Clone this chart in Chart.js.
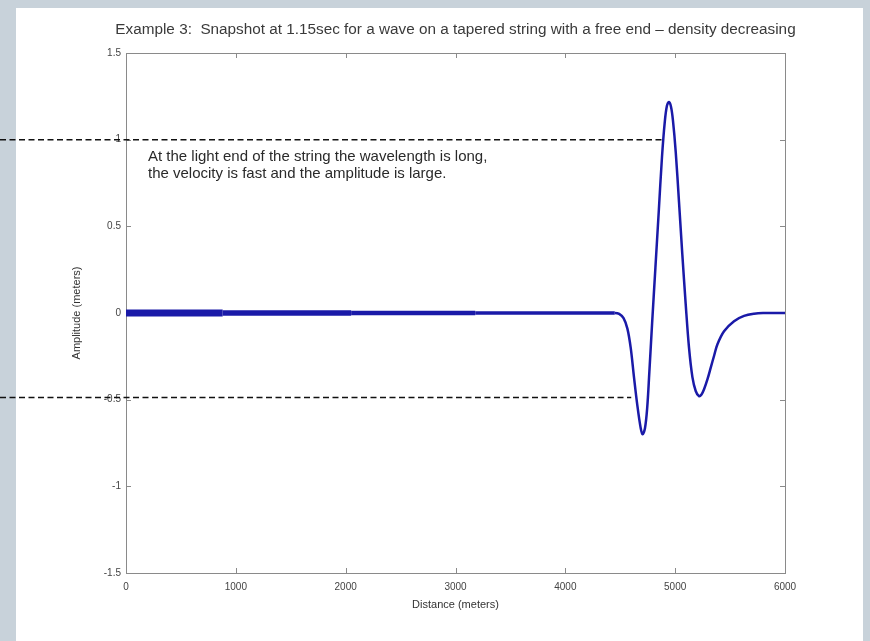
<!DOCTYPE html>
<html>
<head>
<meta charset="utf-8">
<title>Wave on a tapered string</title>
<script src="https://cdn.jsdelivr.net/npm/chart.js@4.4.1/dist/chart.umd.min.js"></script>
<style>
  html, body { margin: 0; padding: 0; background: #c8d2da; }
  #wrap { width: 870px; height: 641px; }
</style>
</head>
<body>
<div id="wrap"><canvas id="myChart" width="870" height="641"></canvas></div>
<script>
// snapshot values: distance (m) and amplitude (m)
let distance = [0, 880, 2050, 3180, 4450, 4490, 4530, 4565, 4595, 4625, 4655, 4685, 4703, 4725,
    4745, 4765, 4790, 4820, 4850, 4880, 4905, 4925, 4943, 4962, 4980, 5005, 5035, 5065, 5096,
    5126, 5157, 5187, 5217, 5240, 5263, 5295, 5324, 5355, 5385, 5445, 5536, 5627, 5718, 5800, 6000];
let amplitude = [0, 0, 0, 0, 0, -0.005, -0.03, -0.09, -0.2, -0.37, -0.53, -0.66, -0.70, -0.665,
    -0.55, -0.34, -0.06, 0.26, 0.58, 0.90, 1.10, 1.195, 1.217, 1.19, 1.11, 0.93, 0.64, 0.34, 0.05,
    -0.2, -0.37, -0.45, -0.48, -0.47, -0.44, -0.38, -0.315, -0.245, -0.18, -0.105, -0.047, -0.017, -0.004, 0, 0];

let xTickLabels = ['0', '1000', '2000', '3000', '4000', '5000', '6000'];
let yTickLabels = ['-1.5', '-1', '-0.5', '0', '0.5', '1', '1.5'];

// dashed marker lines: level (m) and where they stop along the string (m)
let markLevels = [1.0, -0.487];
let markEnds = [4877, 4600];

let noteLines = ['At the light end of the string the wavelength is long,',
    'the velocity is fast and the amplitude is large.'];

let titleText = 'Example 3:  Snapshot at 1.15sec for a wave on a tapered string with a free end \u2013 density decreasing';

Chart.defaults.font.family = '"Liberation Sans", Arial, Helvetica, sans-serif';

// the thick low part of the string gets thinner toward the light end
function bandWidth(x) {
    if (x < 880) return 7;
    if (x < 2050) return 5.5;
    if (x < 3180) return 4.5;
    if (x < 4450) return 3.5;
    return 2.5;
}

let paperPlugin = {
    id: 'paper',
    beforeDraw(chart) {
        let c = chart.ctx;
        c.save();
        c.fillStyle = '#c8d2da';
        c.fillRect(0, 0, chart.width, chart.height);
        c.fillStyle = '#ffffff';
        c.fillRect(16, 8, 847, chart.height - 8);
        c.restore();
    },
    beforeDatasetsDraw(chart) {
        let c = chart.ctx;
        let a = chart.chartArea;
        let xs = chart.scales.x;
        let ys = chart.scales.y;
        c.save();
        c.strokeStyle = '#8a8a8a';
        c.lineWidth = 1;
        c.strokeRect(a.left + 0.5, a.top + 0.5, a.right - a.left, a.bottom - a.top);
        c.beginPath();
        xs.ticks.forEach(function(t) {
            let px = Math.round(xs.getPixelForValue(t.value)) + 0.5;
            c.moveTo(px, a.bottom); c.lineTo(px, a.bottom - 5);
            c.moveTo(px, a.top); c.lineTo(px, a.top + 5);
        });
        ys.ticks.forEach(function(t) {
            let py = Math.round(ys.getPixelForValue(t.value)) + 0.5;
            c.moveTo(a.left, py); c.lineTo(a.left + 5, py);
            c.moveTo(a.right, py); c.lineTo(a.right - 5, py);
        });
        c.stroke();
        c.restore();
    },
    afterDraw(chart) {
        let c = chart.ctx;
        let a = chart.chartArea;
        let xs = chart.scales.x;
        let ys = chart.scales.y;
        c.save();
        // title, a bit wider than the plot box so drawn here
        c.fillStyle = '#3a3a3a';
        c.font = '15.3px "Liberation Sans", Arial, sans-serif';
        c.textAlign = 'center';
        c.textBaseline = 'middle';
        c.fillText(titleText, (a.left + a.right) / 2, 30);
        // dashed markers
        c.strokeStyle = '#111111';
        c.lineWidth = 1.5;
        c.setLineDash([6, 3.5]);
        for (let i = 0; i < markLevels.length; i++) {
            let py = ys.getPixelForValue(markLevels[i]);
            c.beginPath();
            c.moveTo(0, py);
            c.lineTo(xs.getPixelForValue(markEnds[i]), py);
            c.stroke();
        }
        c.setLineDash([]);
        // note text
        c.fillStyle = '#2a2a2a';
        c.font = '15px "Liberation Sans", Arial, sans-serif';
        c.textAlign = 'left';
        let nx = xs.getPixelForValue(200);
        c.fillText(noteLines[0], nx, ys.getPixelForValue(0.9));
        c.fillText(noteLines[1], nx, ys.getPixelForValue(0.9) + 17);
        c.restore();
    }
};

let points = distance.map(function(d, i) {
    return { x: d, y: amplitude[i] };
});

let ctx = document.getElementById('myChart').getContext('2d');
let myChart = new Chart(ctx, {
    type: 'line',
    data: {
        datasets: [{
            data: points,
            borderColor: '#1a1aa8',
            borderWidth: 2.5,
            pointRadius: 0,
            tension: 0.35,
            segment: {
                borderWidth: function(s) { return bandWidth(s.p0.parsed.x); }
            }
        }]
    },
    options: {
        responsive: false,
        animation: false,
        layout: { padding: { left: 60, right: 85, top: 53, bottom: 18 } },
        plugins: {
            legend: { display: false },
            tooltip: { enabled: false },
            title: { display: false }
        },
        scales: {
            x: {
                type: 'linear',
                min: 0,
                max: 6000,
                ticks: {
                    stepSize: 1000,
                    padding: 8,
                    color: '#444444',
                    font: { size: 10 },
                    maxRotation: 0,
                    callback: function(v, i) { return xTickLabels[i]; }
                },
                grid: { display: false, drawTicks: false },
                border: { display: false },
                title: {
                    display: true,
                    text: 'Distance (meters)',
                    color: '#333333',
                    font: { size: 11 },
                    padding: { top: 0, bottom: 11 }
                },
                afterFit: function(s) { s.height = 50; }
            },
            y: {
                type: 'linear',
                min: -1.5,
                max: 1.5,
                ticks: {
                    stepSize: 0.5,
                    padding: 5,
                    color: '#444444',
                    font: { size: 10 },
                    callback: function(v, i) { return yTickLabels[i]; }
                },
                grid: { display: false, drawTicks: false },
                border: { display: false },
                title: {
                    display: true,
                    text: 'Amplitude (meters)',
                    color: '#333333',
                    font: { size: 11 },
                    padding: { top: 10, bottom: 0 }
                },
                afterFit: function(s) { s.width = 66; }
            }
        }
    },
    plugins: [paperPlugin]
});
</script>
</body>
</html>
